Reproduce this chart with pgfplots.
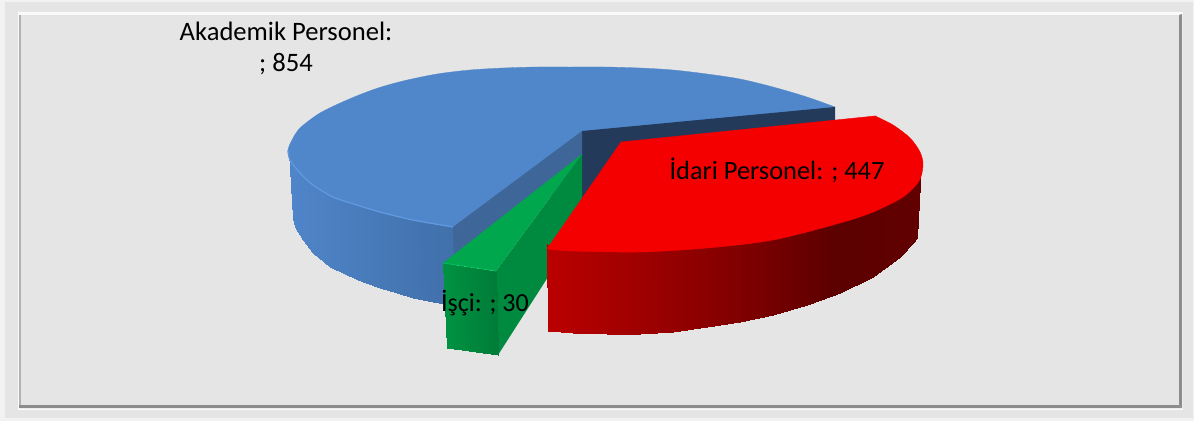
\documentclass[border=0pt]{standalone}
\usepackage{pgfplots}
\pgfplotsset{compat=1.18}
\usepackage{fontspec}
\setmainfont{Carlito}
\pgfplotsset{
 colormap={redside}{rgb255(0)=(186,0,0) rgb255(46)=(135,0,0) rgb255(77)=(92,0,0) rgb255(100)=(98,0,0)},
 colormap={blueside}{rgb255(0)=(79,133,201) rgb255(100)=(65,112,170)},
 colormap={greenside}{rgb255(0)=(0,146,66) rgb255(100)=(0,124,56)},
}
\definecolor{bg}{HTML}{E5E5E5}
\definecolor{bluetop}{HTML}{5087CA}
\definecolor{bluecut}{HTML}{3E6698}
\definecolor{bluerim}{HTML}{629AE2}
\definecolor{navy}{HTML}{233A5A}
\definecolor{greentop}{HTML}{00A74D}
\definecolor{greenrim}{HTML}{00BE5C}
\definecolor{greenside}{HTML}{008A3F}
\definecolor{redtop}{HTML}{F40000}
\begin{document}
\begin{tikzpicture}
\begin{axis}[
  at={(0,0)},anchor=south west,
  scale only axis,width=1194pt,height=421pt,
  xmin=0,xmax=1194,ymin=0,ymax=421,y dir=reverse,
  enlargelimits=false,hide axis,
  point meta min=0,point meta max=100,
]
% frames
\addplot[fill=black!5,draw=none] coordinates {(0,0)(1194,0)(1194,421)(0,421)} --cycle;
\addplot[fill=bg,draw=none] coordinates {(5,2)(1193,2)(1193,418)(5,418)} --cycle;
\addplot[fill=black!2,draw=none] coordinates {(18,12)(1183,12)(1183,410)(18,410)} --cycle;
\addplot[fill=bg,draw=none] coordinates {(19,15)(1179,15)(1179,405)(19,405)} --cycle;
\addplot[fill=black!30,draw=none] coordinates {(19,15)(21,15)(21,405)(19,405)} --cycle;
\addplot[fill=black!45,draw=none] coordinates {(1179,15)(1182,14)(1182,408)(1179,405)} --cycle;
\addplot[fill=black!45,draw=none] coordinates {(19,405)(1179,405)(1182,408)(19,408)} --cycle;
% blue side
\addplot[patch,patch type=rectangle,shader=interp,colormap name=blueside,point meta=explicit] table[meta=m]{
x y m
289 152 0
293 218 0
295 227 1
295 160 1
295 160 1
295 227 1
303 240 8
303 172 8
303 172 8
303 240 8
313 253 14
313 180 14
313 180 14
313 253 14
330 267 25
330 190 25
330 190 25
330 267 25
347 275 35
347 198 35
347 198 35
347 275 35
363 282 45
363 202 45
363 202 45
363 282 45
380 288 55
380 208 55
380 208 55
380 288 55
397 293 65
397 212 65
397 212 65
397 293 65
413 298 76
413 216 76
413 216 76
413 298 76
433 302 88
433 220 88
433 220 88
433 302 88
455 306 100
455 223 100
};
% blue top: arc and rim
\addplot[smooth,fill=bluetop,draw=bluetop,line width=0.3pt] coordinates {
(453,227)(413,220)(380,212)(357,205)(333,197)(313,185)(300,173)(290,160)(288,150)(292,140)(300,128)(320,113)(347,100)(375,89)(403,81)(437,74)(470,70)(503,68)(537,67)(570,67)(605,67)(640,68)(673,70)(707,74)(740,79)(773,87)(807,97)(835,107)} --cycle;
\addplot[smooth,bluerim,line width=1.2pt] coordinates {
(288,150)(290,160)(300,173)(313,185)(333,197)(357,205)(380,212)(413,220)(453,227)};
% navy wall
\addplot[fill=navy,draw=none] coordinates {(582,131)(835,107)(835,140)(582,204)} --cycle;
% blue cut face
\addplot[fill=bluecut,draw=none] coordinates {(453,227)(582,131)(582,156)(454,258)} --cycle;
% green
\addplot[fill=greenside,draw=none] coordinates {(496,271)(582,154)(582,224)(498,355)} --cycle;
\addplot[patch,patch type=rectangle,shader=interp,colormap name=greenside,point meta=explicit] table[meta=m]{
x y m
443 263 0
447 348 0
498 355 100
496 271 100
};
\addplot[fill=greentop,draw=none] coordinates {(443,263)(496,271)(582,154)} --cycle;
\addplot[greenrim,line width=0.8pt] coordinates {(443,263)(470,267)(496,271)};
% red side
\addplot[patch,patch type=rectangle,shader=interp,colormap name=redside,point meta=explicit] table[meta=m]{
x y m
547 244 0
548 331 0
573 333 7
573 246 7
573 246 7
573 333 7
607 334 16
607 247 16
607 247 16
607 334 16
640 334 25
640 247 25
640 247 25
640 334 25
673 332 34
673 246 34
673 246 34
673 332 34
707 327 43
707 243 43
707 243 43
707 327 43
740 322 51
740 240 51
740 240 51
740 322 51
773 315 60
773 235 60
773 235 60
773 315 60
807 305 69
807 228 69
807 228 69
807 305 69
840 293 78
840 218 78
840 218 78
840 293 78
873 277 87
873 207 87
873 207 87
873 277 87
900 257 95
901 192 95
901 192 95
900 257 95
913 243 99
918 176 99
918 176 99
913 243 99
917 238 100
921 165 100
};
% red top
\addplot[fill=redtop,draw=redtop,line width=0.4pt] coordinates {(547,249)(621,142)(875,116)} --cycle;
\addplot[smooth,fill=redtop,draw=redtop,line width=0.4pt] coordinates {
(875,116)(893,125)(910,138)(920,152)(923,165)(919,181)(903,197)(873,212)(840,223)(773,240)(707,248)(640,252)(573,251)(547,249)} --cycle;
% labels
\node[font=\fontsize{26.6}{26.6}\selectfont,text=black] at (axis cs:286,31) {Akademik Personel:};
\node[font=\fontsize{26.6}{26.6}\selectfont,text=black] at (axis cs:286,64) {; 854};
\node[font=\fontsize{26.4}{26.4}\selectfont,text=black] at (axis cs:777,170) {İdari Personel: ; 447};
\node[font=\fontsize{26}{26}\selectfont,text=black] at (axis cs:485,303) {İşçi: ; 30};
\end{axis}
\end{tikzpicture}
\end{document}
